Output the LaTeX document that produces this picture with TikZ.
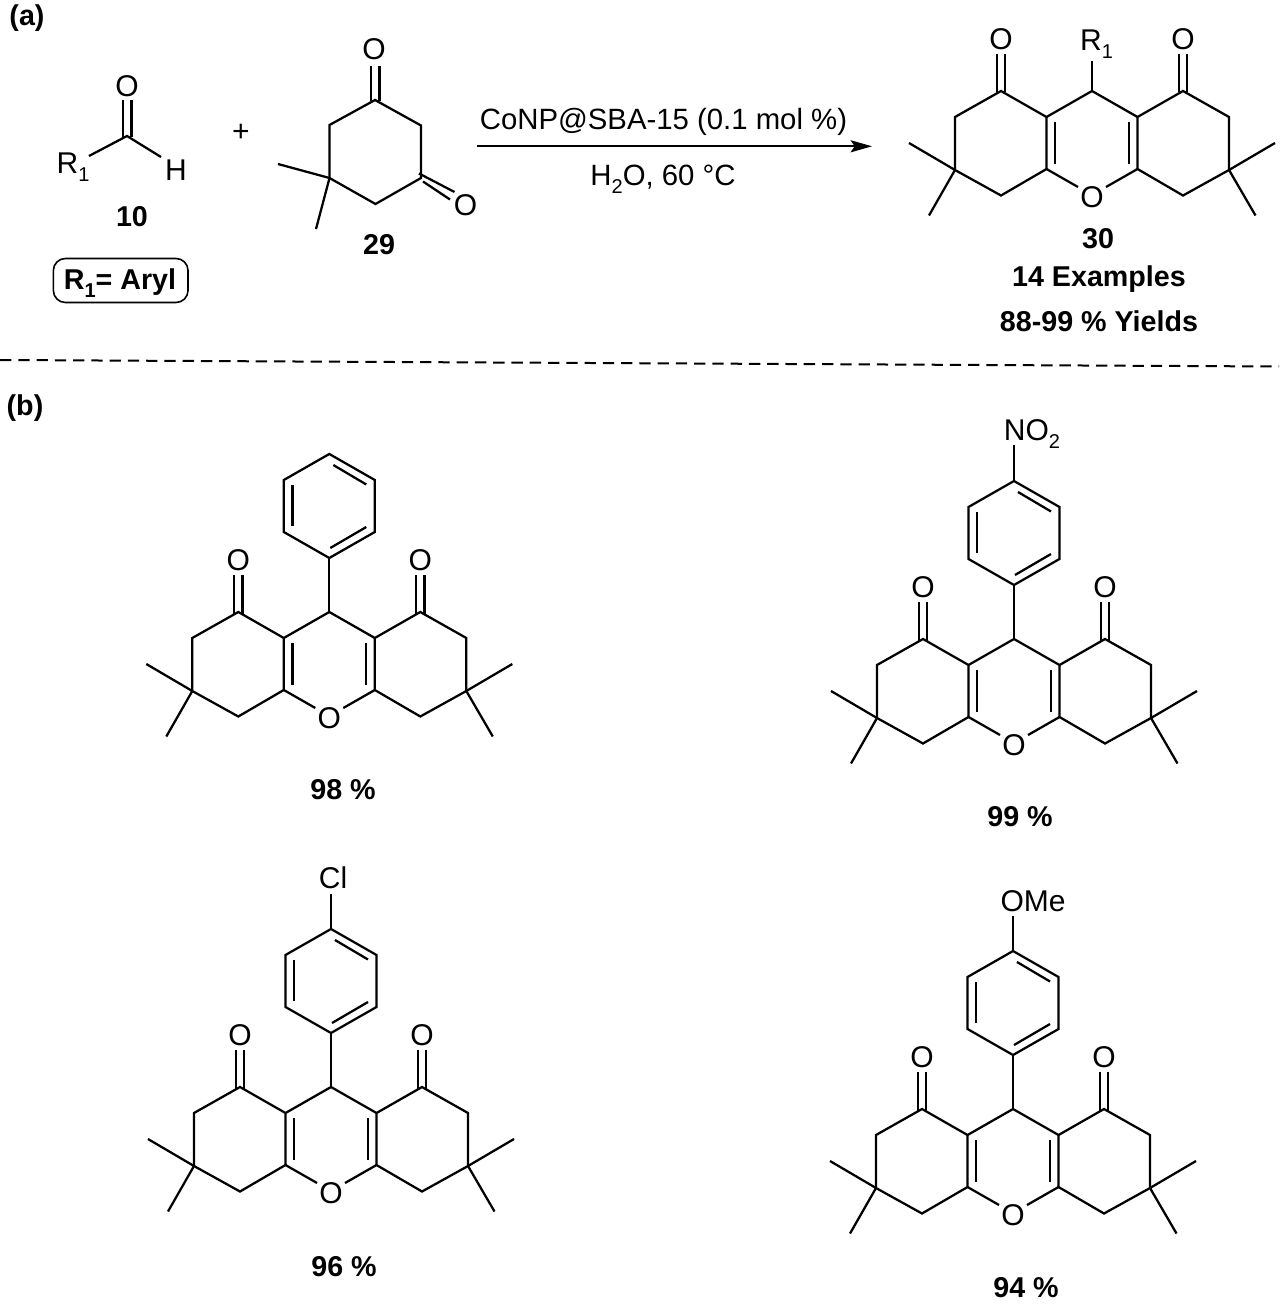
\documentclass[tikz,border=0pt]{standalone}
\usepackage{fontspec}
\setmainfont{Liberation Sans}
\usetikzlibrary{arrows.meta}
\newcommand\subsc[1]{\raisebox{-0.28em}{\fontsize{15}{16}\selectfont #1}}
\tikzset{
  bond/.style={line width=1.7pt,line join=miter,line cap=butt,black},
  atom/.style={inner sep=0pt,font=\fontsize{22.5}{26}\selectfont},
  bold/.style={inner sep=0pt,font=\fontsize{21.5}{26}\selectfont\bfseries},
  reag/.style={inner sep=0pt,font=\fontsize{22}{26}\selectfont},
}
\newcommand\xanthcore[3]{%
\begin{scope}[shift={(#1,#2)}]
  \draw[bond] (0,0) -- (-45.5,26) -- (-91,0) -- (-137,26) -- (-137,79) -- (-91,104.5) -- (-45.5,78) -- (-45.5,26);
  \draw[bond] (0,0) -- (45.5,26) -- (91,0) -- (137,26) -- (137,79) -- (91,104.5) -- (45.5,78) -- (45.5,26);
  \draw[bond] (-45.5,78) -- (-14,96) (45.5,78) -- (14,96);
  \draw[bond] (-36.8,31) -- (-36.8,73) (36.8,31) -- (36.8,73);
  \draw[bond] (-137,79) -- (-183,52) (-137,79) -- (-163,124.5);
  \draw[bond] (137,79) -- (183,52) (137,79) -- (163.5,124.5);
  \draw[bond] (-95.3,1.5) -- (-95.3,-37) (-86.7,1.5) -- (-86.7,-37);
  \draw[bond] (86.7,1.5) -- (86.7,-37) (95.3,1.5) -- (95.3,-37);
  \node[atom] (#3ol) at (-91,-52) {O};
  \node[atom] (#3or) at (91,-52) {O};
  \node[atom] (#3ox) at (0,106.5) {O};
\end{scope}}
\newcommand\arylring[2]{%
\begin{scope}[shift={(#1,#2)}]
  \draw[bond] (0,0) -- (0,-54);
  \draw[bond] (0,-54) -- (45.5,-80) -- (45.5,-132) -- (0,-158) -- (-45.5,-132) -- (-45.5,-80) -- cycle;
  \draw[bond] (-36.8,-86) -- (-36.8,-127);
  \draw[bond] (4,-147) -- (37,-127.5);
  \draw[bond] (1,-64) -- (37,-85);
\end{scope}}
\begin{document}
\begin{tikzpicture}[x=0.75pt,y=-0.75pt]
\useasboundingbox (0,0) rectangle (1279,1308);
% panel labels
\node[bold] (pa) at (27,18) {(a)};
\node[bold] (pb) at (25,408) {(b)};
% aldehyde 10
\node[atom] (ald-o) at (127,86) {O};
\node[atom] (ald-r) at (73,167) {R\subsc{1}};
\node[atom] (ald-h) at (176,170) {H};
\coordinate (ald-c) at (127,136);
\draw[bond] (89,156) -- (ald-c) -- (161,157);
\draw[bond] (122.8,137) -- (122.8,100) (131.6,137) -- (131.6,100);
\node[bold] (n10) at (132,217) {10};
\node[draw,line width=1.2pt,rounded corners=9pt,minimum width=101pt,minimum height=33pt,inner sep=0pt] (rbox) at (120.7,280.5) {};
\node[bold] (rtxt) at (120,283) {R\subsc{1}= Aryl};
\node[atom] (plus) at (241,133) {+};
% dimedone 29
\draw[bond] (375,100) -- (421,125.5) -- (421,178) -- (375.5,204) -- (329.5,178) -- (329.5,125) -- cycle;
\draw[bond] (329.5,178) -- (278,164) (329.5,178) -- (316,229);
\draw[bond] (370.7,101) -- (370.7,66.5) (379.4,101) -- (379.4,66.5);
\draw[bond] (419,173.5) -- (454.5,192) (423,181.5) -- (450,199.5);
\node[atom] (dim-o1) at (374,49) {O};
\node[atom] (dim-o2) at (465.5,205) {O};
\node[bold] (n29) at (379,245) {29};
% arrow
\coordinate (arr-a) at (477,146.3);
\coordinate (arr-b) at (872,146.3);
\draw[bond,-{Stealth[length=16pt,width=9pt,inset=3pt]}] (arr-a) -- (arr-b);
\node[reag] (cond1) at (663.5,122) {CoNP@SBA-15 (0.1 mol \%)};
\node[reag] (cond2) at (663,179) {H\subsc{2}O, 60 °C};
% product 30
\xanthcore{1092}{91}{p}
\draw[bond] (1092,91) -- (1092,61.5);
\node[atom] (pr) at (1096.5,44) {R\subsc{1}};
\node[bold] (n30) at (1098,239) {30};
\node[bold] (ex) at (1099,279.5) {14 Examples};
\node[bold] (yl) at (1099,321) {88-99 \% Yields};
% divider
\coordinate (div-a) at (0,360);
\coordinate (div-b) at (1279,366.5);
\draw[line width=1.5pt,dash pattern=on 8.5pt off 5.2pt] (div-a) -- (div-b);
% phenyl
\xanthcore{329.3}{612}{a}
\arylring{329.3}{612}
\node[bold] (y98) at (343,790) {98 \%};
% nitro
\xanthcore{1014}{639}{b}
\arylring{1014}{639}
\draw[bond] (1014,482) -- (1014,445);
\node[atom,anchor=center] (no2) at (1032,434) {NO\subsc{2}};
\node[bold] (y99) at (1020,817) {99 \%};
% chloro
\xanthcore{331}{1087}{c}
\arylring{331}{1087}
\draw[bond] (331,929) -- (331,894);
\node[atom] (cl) at (333,878) {Cl};
\node[bold] (y96) at (344,1267) {96 \%};
% methoxy
\xanthcore{1013}{1109}{d}
\arylring{1013}{1109}
\draw[bond] (1013,951) -- (1013,916);
\node[atom] (ome) at (1033,901) {OMe};
\node[bold] (y94) at (1026,1288) {94 \%};
\end{tikzpicture}
\end{document}
